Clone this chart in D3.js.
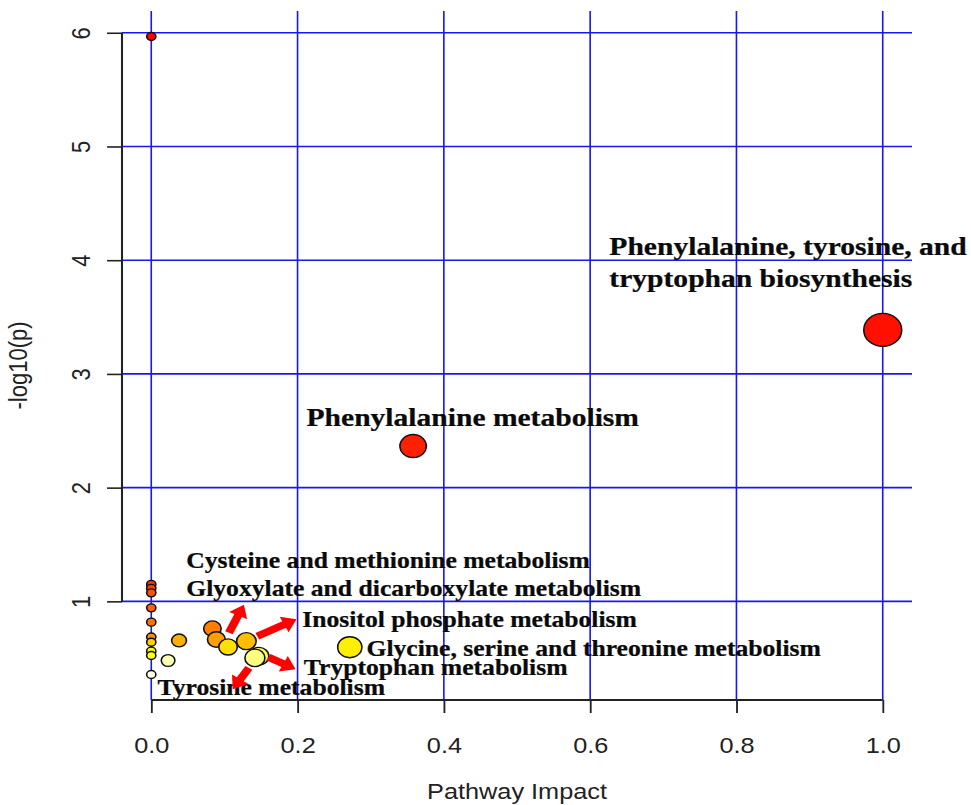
<!DOCTYPE html>
<html>
<head>
<meta charset="utf-8">
<script src="https://cdn.jsdelivr.net/npm/d3@7"></script>
<style>
  html, body { margin: 0; padding: 0; background: #ffffff; }
  svg { display: block; }
</style>
</head>
<body>
<svg id="chart" width="971" height="805"></svg>
<script>
// ---------------- data ----------------
// pathway impact (x) and -log10(p) (y) for every pathway point
const impact = [0, 1.0, 0.358, 0, 0, 0, 0, 0, 0.0836, 0, 0.089, 0.038, 0.130, 0, 0.105, 0.2714, 0, 0, 0.147, 0.1417, 0.023, 0];
const logp   = [5.967, 3.387, 2.366, 1.149, 1.114, 1.075, 0.943, 0.817, 0.761, 0.687, 0.665, 0.656, 0.650, 0.641, 0.599, 0.597, 0.562, 0.524, 0.518, 0.503, 0.48, 0.357];

// x ticks and y ticks
const xTicks = [0.0, 0.2, 0.4, 0.6, 0.8, 1.0];
const yTicks = [1, 2, 3, 4, 5, 6];

// annotation labels (text, anchor in data units)
const labelText = [
  ["Phenylalanine, tyrosine, and", "tryptophan biosynthesis"],
  ["Phenylalanine metabolism"],
  ["Cysteine and methionine metabolism"],
  ["Glyoxylate and dicarboxylate metabolism"],
  ["Inositol phosphate metabolism"],
  ["Glycine, serine and threonine metabolism"],
  ["Tryptophan metabolism"],
  ["Tyrosine metabolism"]
];
const labelX = [0.6263, 0.2123, 0.0478, 0.0478, 0.2064, 0.2942, 0.2086, 0.0085];
const labelY = [4.045, 2.542, 1.295, 1.046, 0.773, 0.5176, 0.350, 0.174];
const labelBig = [true, true, false, false, false, false, false, false];

// red annotation arrows: from (x1,y1) to (x2,y2) in data units
const arrowX1 = [0.1062, 0.145, 0.1604, 0.1335];
const arrowY1 = [0.723, 0.694, 0.509, 0.415];
const arrowX2 = [0.1267, 0.1986, 0.1973, 0.1113];
const arrowY2 = [0.971, 0.843, 0.403, 0.227];

// ---------------- layout ----------------
const W = 971, H = 805;
const SX = 1.15;               // horizontal stretch of the whole figure
const plotLeft = 122, plotRight = 912, plotTop = 11, plotBottom = 700;

const svg = d3.select("#chart");
svg.append("rect").attr("width", W).attr("height", H).attr("fill", "#fff");
const g = svg.append("g").attr("transform", `scale(${SX},1)`);

const xe = d3.extent(impact), ye = d3.extent(logp);
const xpad = (xe[1] - xe[0]) * 0.04, ypad = (ye[1] - ye[0]) * 0.04;
const x = d3.scaleLinear().domain([xe[0] - xpad, xe[1] + xpad]).range([plotLeft / SX, plotRight / SX]);
const y = d3.scaleLinear().domain([ye[0] - ypad, ye[1] + ypad]).range([plotBottom, plotTop]);
const r = d3.scaleSqrt().domain([0, 1]).range([4, 16.5]);

// heat.colors by rank of -log10(p)
function heatColors(n) {
  const j = Math.floor(n / 4), i = n - j, out = [];
  for (let k = 0; k < i; k++) {
    const h = (i > 1 ? k / (i - 1) : 0) / 6;
    out.push(d3.rgb(255, Math.round(255 * 6 * h), 0).formatHex());
  }
  for (let m = 0; m < j; m++) {
    const s = j > 1 ? (1 - 1 / (2 * j)) - m * ((1 - 1 / j) / (j - 1)) : 0.5;
    out.push(d3.rgb(255, 255, Math.round(255 * (1 - s))).formatHex());
  }
  return out;
}
const pts = impact.map((v, i) => ({ x: v, y: logp[i] }));
const order = d3.range(pts.length).sort((a, b) => pts[b].y - pts[a].y);
const heat = heatColors(pts.length);
order.forEach((idx, rank) => { pts[idx].col = heat[rank]; });

// ---------------- grid ----------------
const gridColor = "#1818ee";
g.append("g").selectAll("line").data(xTicks).join("line")
  .attr("x1", d => x(d)).attr("x2", d => x(d))
  .attr("y1", plotTop).attr("y2", plotBottom)
  .attr("stroke", gridColor).attr("stroke-width", 1.4);
g.append("g").selectAll("line").data(yTicks).join("line")
  .attr("x1", plotLeft / SX).attr("x2", plotRight / SX)
  .attr("y1", d => y(d)).attr("y2", d => y(d))
  .attr("stroke", gridColor).attr("stroke-width", 1.6);

// ---------------- axes ----------------
const axisFont = "'Liberation Sans', Arial, sans-serif";
const xAxis = g.append("g").attr("transform", `translate(0,${plotBottom})`)
  .call(d3.axisBottom(x).tickValues(xTicks).tickFormat(d3.format(".1f")).tickSizeOuter(0).tickSizeInner(13).tickPadding(24));
xAxis.select(".domain").attr("d", `M${x(0)},0H${x(1)}`).attr("stroke", "#222").attr("stroke-width", 2);
xAxis.selectAll(".tick line").attr("stroke", "#222").attr("stroke-width", 1.6);
xAxis.selectAll(".tick text").attr("font-family", axisFont).attr("font-size", 22).attr("fill", "#222").attr("dy", "0.71em");

const yAxis = g.append("g").attr("transform", `translate(${plotLeft / SX},0)`)
  .call(d3.axisLeft(y).tickValues(yTicks).tickFormat(d3.format("d")).tickSizeOuter(0).tickSizeInner(13));
yAxis.select(".domain").attr("d", `M0,${y(1)}V${y(6)}`).attr("stroke", "#222").attr("stroke-width", 1.8);
yAxis.selectAll(".tick line").attr("stroke", "#222").attr("stroke-width", 1.6);
yAxis.selectAll(".tick text")
  .attr("font-family", axisFont).attr("font-size", 22).attr("fill", "#222")
  .attr("x", null).attr("dy", null).attr("text-anchor", "middle")
  .attr("transform", `translate(${90 / SX - plotLeft / SX},0) rotate(-90)`);

// axis titles
g.append("text").attr("x", (plotLeft + plotRight) / 2 / SX).attr("y", 799)
  .attr("text-anchor", "middle").attr("font-family", axisFont).attr("font-size", 22).attr("fill", "#222")
  .text("Pathway Impact");
g.append("text").attr("transform", `translate(${27 / SX},${(plotTop + plotBottom) / 2 + 10}) rotate(-90)`)
  .attr("text-anchor", "middle").attr("font-family", axisFont).attr("font-size", 22).attr("fill", "#222")
  .text("-log10(p)");

// ---------------- points ----------------
g.append("g").selectAll("circle").data(order.map(i => pts[i])).join("circle")
  .attr("cx", d => x(d.x)).attr("cy", d => y(d.y)).attr("r", d => r(d.x))
  .attr("fill", d => d.col).attr("stroke", "#111").attr("stroke-width", 1.4);

// ---------------- labels ----------------
const labelFont = "'Liberation Serif', 'Times New Roman', serif";
labelText.forEach((lines, i) => {
  const t = g.append("text")
    .attr("x", x(labelX[i])).attr("y", y(labelY[i]))
    .attr("font-family", labelFont).attr("font-weight", "bold")
    .attr("font-size", labelBig[i] ? 25.7 : 22.3).attr("fill", "#0a0a0a")
    .attr("stroke", "#0a0a0a").attr("stroke-width", 0.25);
  lines.forEach((ln, k) => {
    t.append("tspan").attr("x", x(labelX[i])).attr("dy", k === 0 ? 0 : 32.4).text(ln);
  });
});

// ---------------- arrows ----------------
function arrowPath(x1, y1, x2, y2) {
  const dx = x2 - x1, dy = y2 - y1, L = Math.hypot(dx, dy);
  const ux = dx / L, uy = dy / L, nx = -uy, ny = ux;
  const sw = 3.6, hw = 8.6, hl = 12;
  const bx = x2 - ux * hl, by = y2 - uy * hl;
  const p = [
    [x1 + nx * sw, y1 + ny * sw], [bx + nx * sw, by + ny * sw], [bx + nx * hw, by + ny * hw],
    [x2, y2],
    [bx - nx * hw, by - ny * hw], [bx - nx * sw, by - ny * sw], [x1 - nx * sw, y1 - ny * sw]
  ];
  return "M" + p.map(q => q.join(",")).join("L") + "Z";
}
g.append("g").selectAll("path").data(d3.range(arrowX1.length)).join("path")
  .attr("d", i => arrowPath(x(arrowX1[i]), y(arrowY1[i]), x(arrowX2[i]), y(arrowY2[i])))
  .attr("fill", "#ff0000");
</script>
</body>
</html>
